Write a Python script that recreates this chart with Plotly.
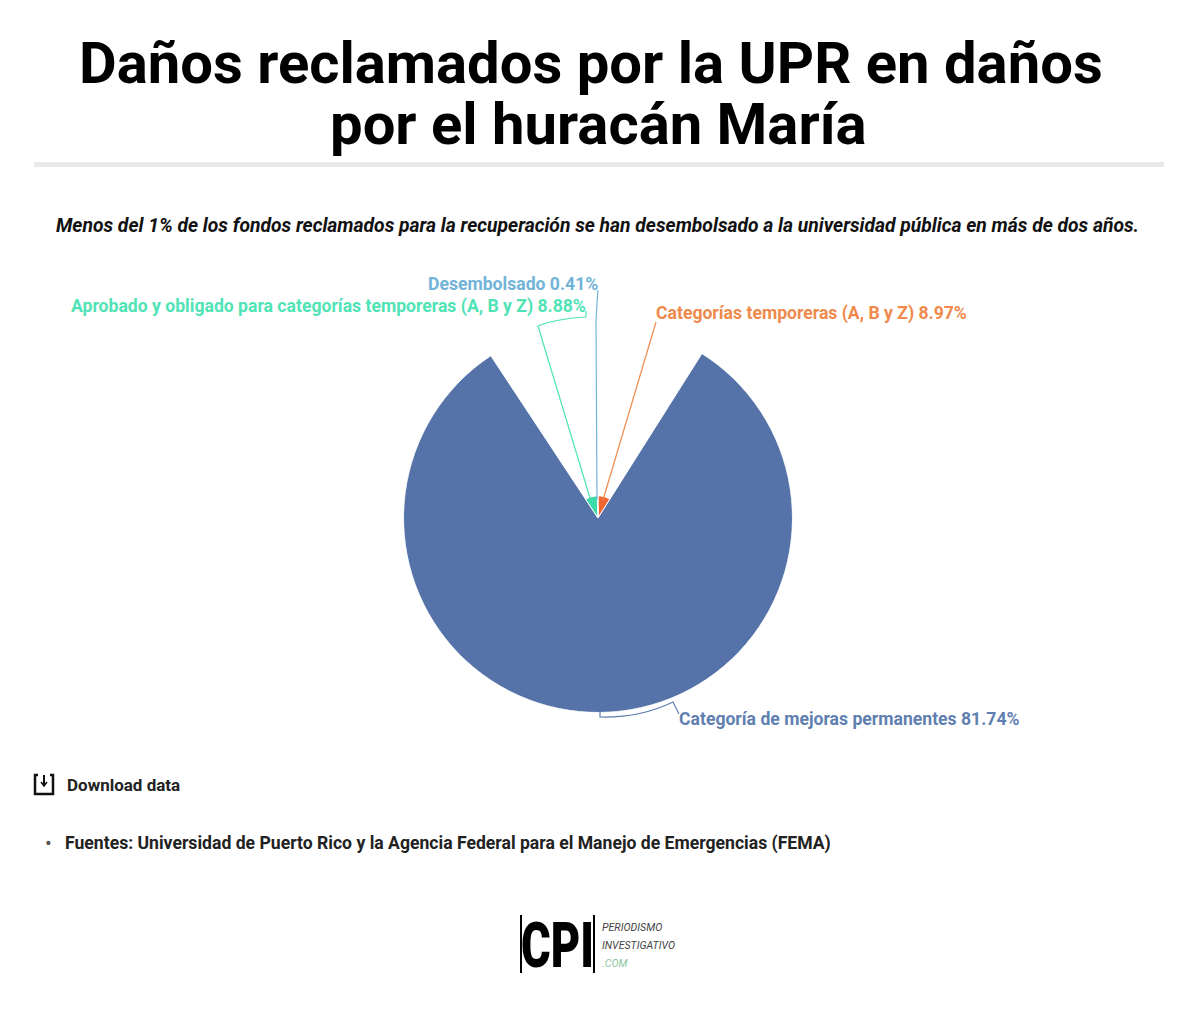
import numpy as np
import plotly.graph_objects as go

W = 1200
H = 1032

# pie data, clockwise from 12 o'clock
categories = ["Categorías temporeras (A, B y Z)", "Categoría de mejoras permanentes",
              "Aprobado y obligado para categorías temporeras (A, B y Z)", "Desembolsado"]
shares = [8.97, 81.74, 8.88, 0.41]
radii = [11.5, 100, 11.5, 11.5]
colors = ["#f0652f", "#5573a9", "#3ddbaa", "#69b0d6"]
label_colors = ["#ef8a4c", "#5f7fb0", "#4fe3b5", "#72b3d8"]


def px(x):
    return x / W


def py(y):
    return 1 - y / H


def line_shape(path, color, width=1.2):
    return dict(type="path", xref="paper", yref="paper", path=path,
                line=dict(color=color, width=width), fillcolor="rgba(0,0,0,0)")


def pts(*xy):
    out = []
    for i, (x, y) in enumerate(xy):
        out.append(("M" if i == 0 else "L") + f"{px(x):.5f},{py(y):.5f}")
    return " ".join(out)


def curve(start, ctrl, end):
    return (f"M{px(start[0]):.5f},{py(start[1]):.5f} Q{px(ctrl[0]):.5f},{py(ctrl[1]):.5f} "
            f"{px(end[0]):.5f},{py(end[1]):.5f}")


def text(x, y, s, size, color="#000000", anchor="left", family="Roboto", weight=None):
    # annotations carry a couple of px of padding
    nudge = {"left": -2, "right": 2, "center": 0}[anchor]
    font = dict(family=family, size=size, color=color)
    if weight:
        font["weight"] = weight
    return dict(x=px(x + nudge), y=py(y), xref="paper", yref="paper", text=s, showarrow=False,
                xanchor=anchor, yanchor="middle", align=anchor, font=font)


widths = np.array(shares) * 3.6
centers = np.cumsum(widths) - widths / 2

fig = go.Figure(go.Barpolar(r=radii, theta=centers, width=widths, text=categories,
                            marker=dict(color=colors, line=dict(color="#ffffff", width=1)),
                            hoverinfo="text"))

shapes = [
    dict(type="rect", xref="paper", yref="paper", x0=px(34), x1=px(1164), y0=py(167), y1=py(162),
         fillcolor="#e9e9e9", line=dict(width=0)),
    # leader lines
    line_shape(pts((603, 500), (656, 322)), label_colors[0]),
    line_shape(pts((590, 498), (538, 326)) + " " + curve((538, 326), (555, 319), (586, 317)).replace("M", "L", 1)
               + " " + pts((586, 317), (586, 311)).replace("M", "L", 1), label_colors[2]),
    line_shape(pts((597, 500), (596, 322)) + " " + curve((596, 322), (597, 300), (598, 290)).replace("M", "L", 1),
               label_colors[3]),
    line_shape(pts((600, 712), (600, 717)) + " " + curve((600, 717), (640, 718), (673, 702)).replace("M", "L", 1)
               + " " + pts((673, 702), (679, 714)).replace("M", "L", 1), label_colors[1]),
    # download icon
    line_shape(pts((38, 775), (35, 775), (35, 794), (53, 794), (53, 775), (50, 775)), "#111111", 2.5),
    line_shape(pts((44, 775), (44, 785)), "#111111", 2),
    line_shape(pts((41, 782), (44, 786), (47, 782)), "#111111", 1.5),
    # logo bars
    line_shape(pts((521, 915), (521, 973)), "#000000", 2),
    line_shape(pts((594, 915), (594, 973)), "#000000", 2),
]

annotations = [
    text(591, 63, "<b>Daños reclamados por la UPR en daños</b>", 58, anchor="center"),
    text(598, 124, "<b>por el huracán María</b>", 58, anchor="center"),
    text(597, 226, "<b><i>Menos del 1% de los fondos reclamados para la recuperación se han desembolsado a la universidad pública en más de dos años.</i></b>",
         19.3, "#111111", "center"),
    text(656, 313, f"<b>{categories[0]} {shares[0]}%</b>", 17.6, label_colors[0]),
    text(679, 719, f"<b>{categories[1]} {shares[1]}%</b>", 17.6, label_colors[1]),
    text(586, 306, f"<b>{categories[2]} {shares[2]}%</b>", 17.6, label_colors[2], "right"),
    text(598, 284, f"<b>{categories[3]} {shares[3]}%</b>", 17.6, label_colors[3], "right"),
    text(67, 785, "<b>Download data</b>", 17, "#222222"),
    text(45, 843, "•", 20, "#555555"),
    text(65, 843, "<b>Fuentes: Universidad de Puerto Rico y la Agencia Federal para el Manejo de Emergencias (FEMA)</b>",
         17.6, "#222222"),
    text(557, 945, "CPI", 63, "#000000", "center", "Roboto", 900),
    text(602, 927, "<i>PERIODISMO</i>", 10.6, "#444444"),
    text(602, 945, "<i>INVESTIGATIVO</i>", 10.6, "#444444"),
    text(602, 963, "<i>.COM</i>", 10.6, "#8cc79f"),
]

fig.update_layout(
    width=W, height=H, margin=dict(l=0, r=0, t=0, b=0),
    paper_bgcolor="#ffffff", showlegend=False,
    polar=dict(
        domain=dict(x=[px(598 - 194.5), px(598 + 194.5)], y=[py(518 + 194.5), py(518 - 194.5)]),
        bgcolor="rgba(0,0,0,0)",
        radialaxis=dict(range=[0, 100], visible=False),
        angularaxis=dict(direction="clockwise", rotation=90, visible=False),
    ),
    shapes=shapes, annotations=annotations,
)

# body margin off, and squeeze the logo letters to the narrow width of the original
post = """
document.body.style.margin='0';
document.querySelectorAll('.annotation').forEach(function(a){
  if (a.textContent.trim() === 'CPI') {
    a.setAttribute('transform', 'translate(557,0) scale(0.72,1) translate(-557,0)');
  }
});
"""
fig.write_html("out.html", post_script=post, config=dict(displayModeBar=False))
